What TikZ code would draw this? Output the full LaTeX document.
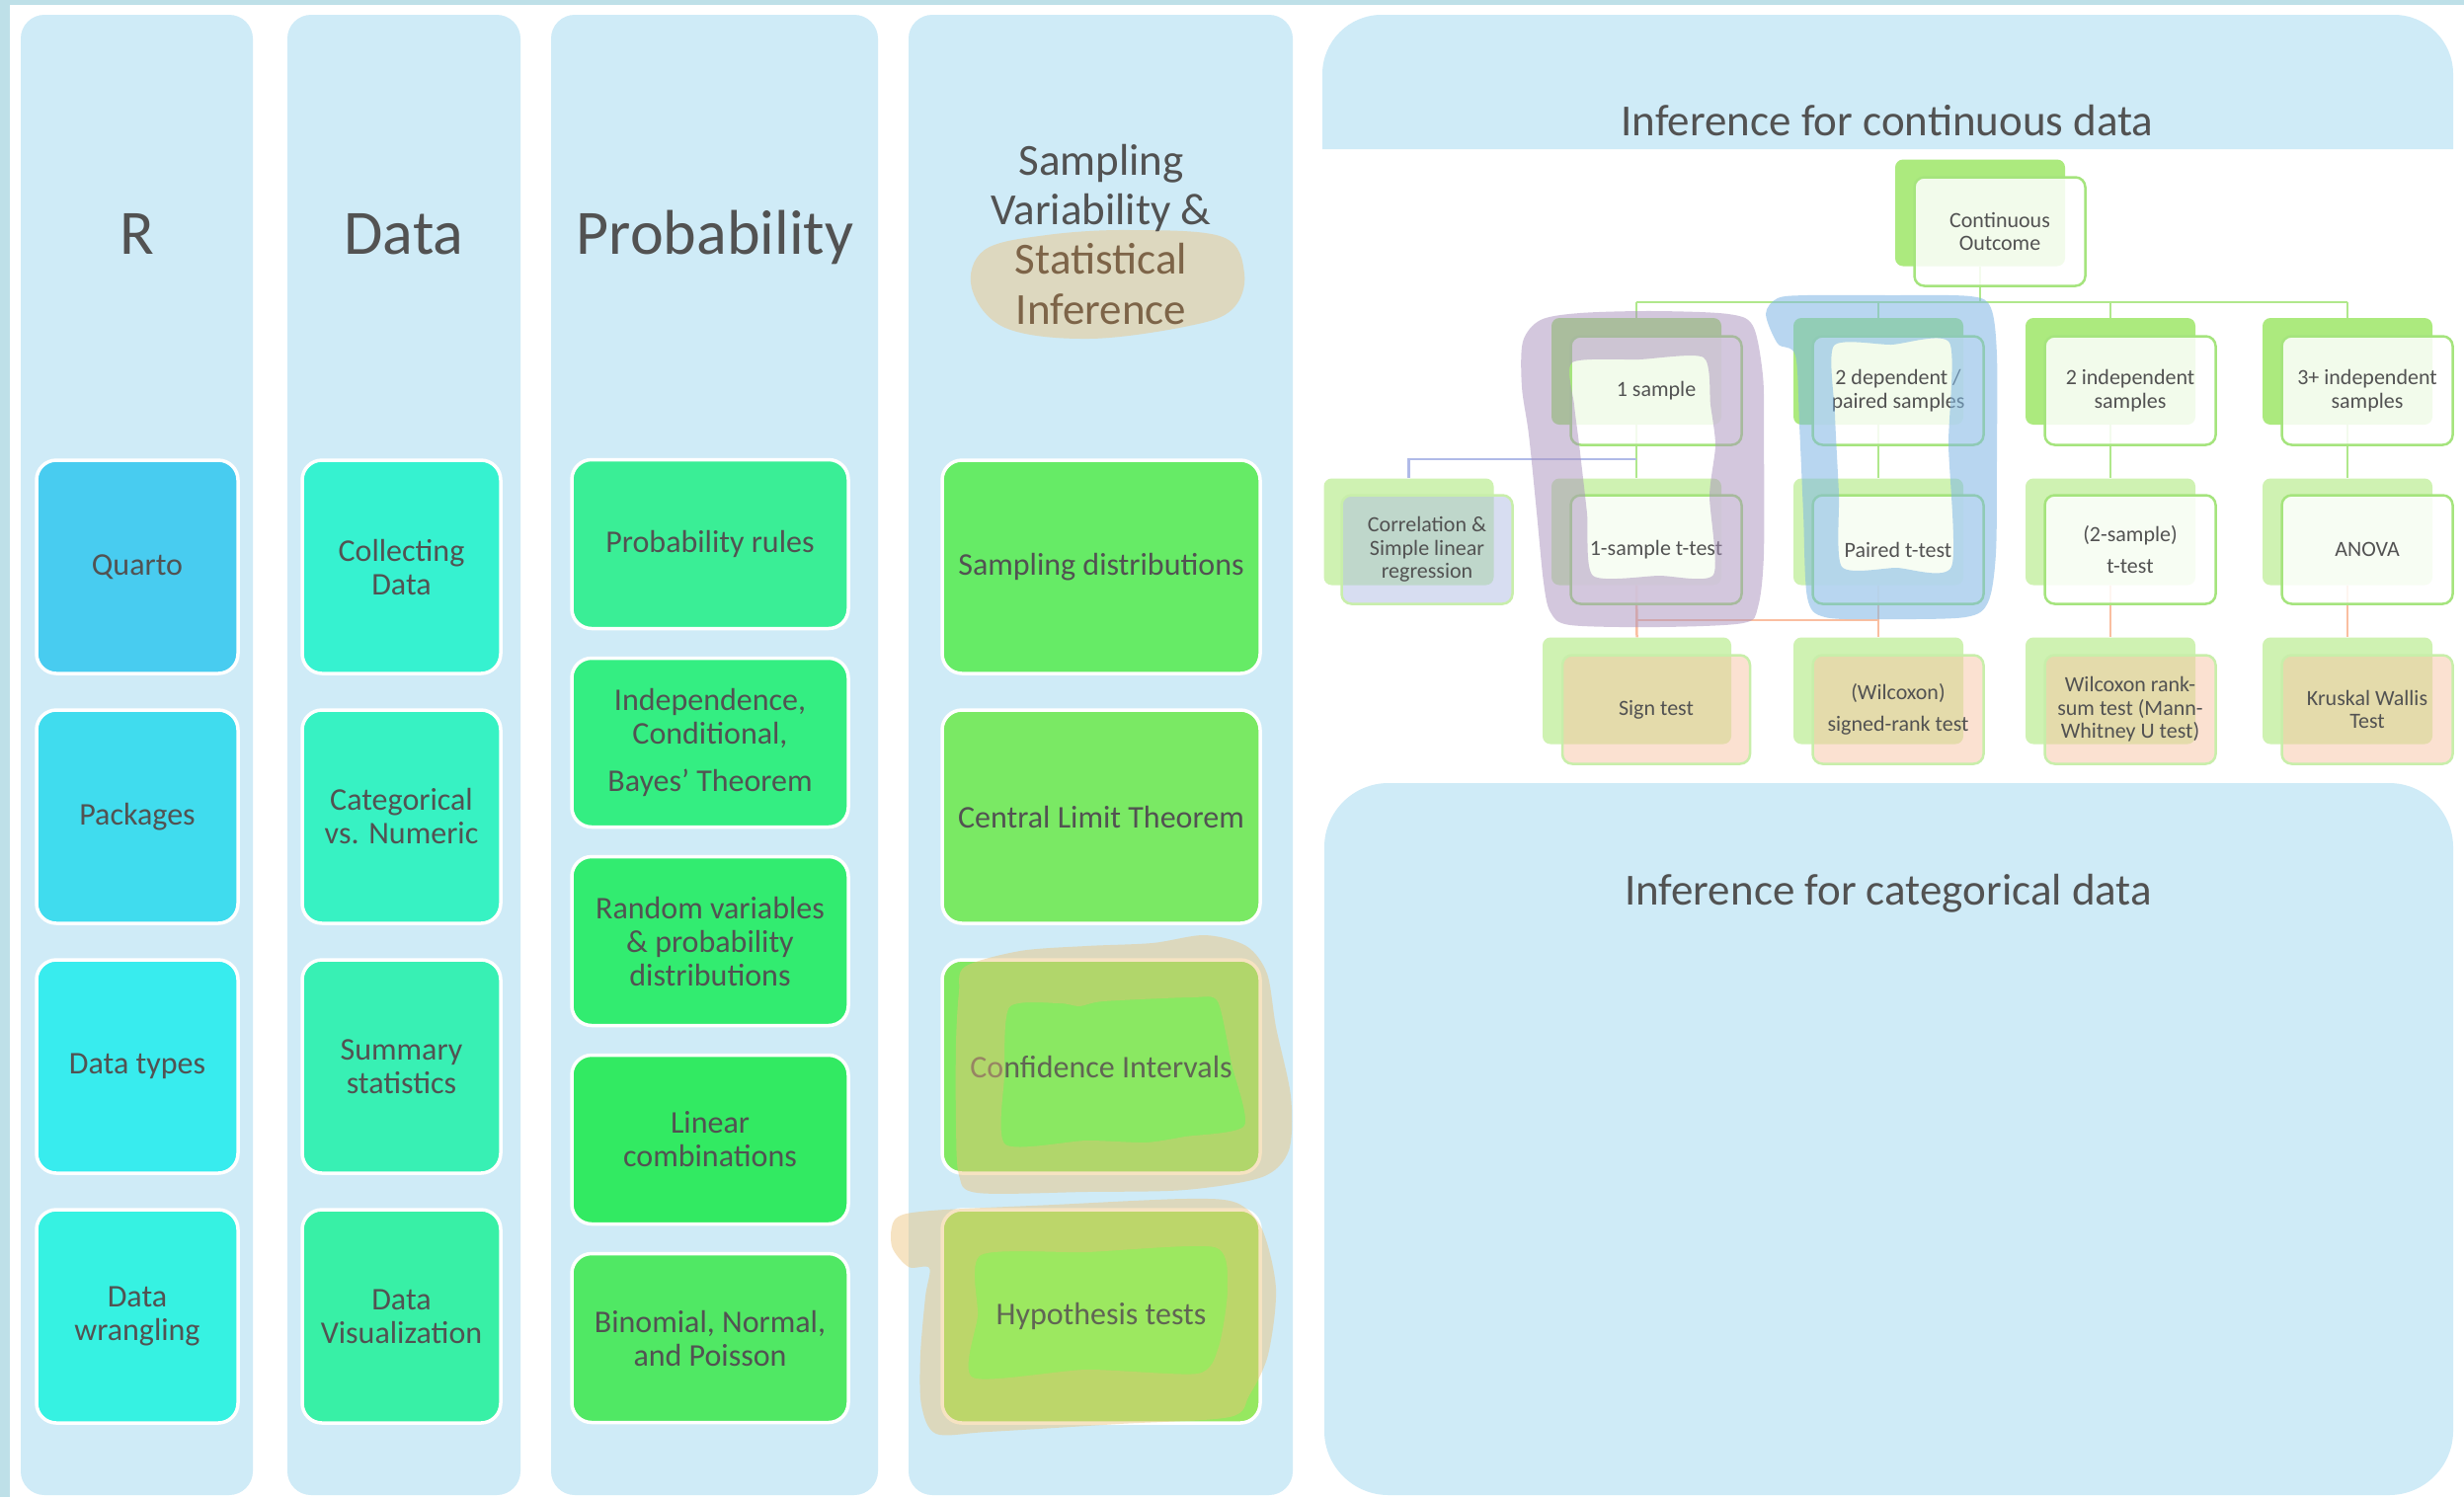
\documentclass[tikz,border=0pt]{standalone}
\usepackage{fontspec}
\setmainfont{Carlito}
\usetikzlibrary{calc}

\definecolor{panelblue}{RGB}{207,235,247}
\definecolor{stripblue}{RGB}{190,224,232}
\definecolor{txt}{RGB}{82,82,82}
\definecolor{brownt}{RGB}{125,100,72}
% topic box fills
\definecolor{cQuarto}{RGB}{72,204,240}
\definecolor{cPackages}{RGB}{64,220,238}
\definecolor{cTypes}{RGB}{56,236,238}
\definecolor{cWrangle}{RGB}{54,242,226}
\definecolor{cCollect}{RGB}{54,242,208}
\definecolor{cCatNum}{RGB}{55,242,195}
\definecolor{cSumm}{RGB}{56,240,180}
\definecolor{cViz}{RGB}{56,240,166}
\definecolor{cRules}{RGB}{58,238,150}
\definecolor{cIndep}{RGB}{52,238,130}
\definecolor{cRV}{RGB}{50,236,112}
\definecolor{cLin}{RGB}{50,234,98}
\definecolor{cBinom}{RGB}{80,232,100}
\definecolor{cSampD}{RGB}{102,235,102}
\definecolor{cCLT}{RGB}{122,233,100}
\definecolor{cCI}{RGB}{130,232,98}
\definecolor{cHT}{RGB}{150,232,96}
% tree colours
\definecolor{treeline}{RGB}{176,232,140}
\definecolor{lavline}{RGB}{176,186,232}
\definecolor{orangeline}{RGB}{250,190,160}
\definecolor{treegreen}{RGB}{172,234,126}
\definecolor{treegreenlt}{RGB}{207,242,178}
\definecolor{treeborder}{RGB}{165,228,125}
\definecolor{treeborderlt}{RGB}{200,238,170}
\definecolor{peach}{RGB}{249,197,165}
\definecolor{lavender}{RGB}{177,189,229}
% highlighter colours
\definecolor{hlpurple}{RGB}{169,145,189}
\definecolor{hlblue}{RGB}{126,182,228}
\definecolor{hltan}{RGB}{236,193,120}
\definecolor{hlsand}{RGB}{221,216,191}
\definecolor{hllime}{RGB}{200,240,100}

\newcommand\hdfont{\fontsize{64}{70}\selectfont}
\newcommand\sbfont{\fontsize{45}{50}\selectfont}
\newcommand\tpfont{\fontsize{32}{34}\selectfont}
\newcommand\trfont{\fontsize{22}{23.5}\selectfont}

\begin{document}
\begin{tikzpicture}[x=1pt,y=-1pt,
  panel/.style={fill=panelblue, rounded corners=24},
  hdr/.style={text=txt, font=\hdfont, inner sep=0, anchor=base},
  sbhdr/.style={text=txt, font=\sbfont, inner sep=0, anchor=base},
  ttl/.style={text=txt, font=\sbfont, inner sep=0, anchor=base},
  topic/.style={draw=white, line width=3.5, rounded corners=20, text=txt,
    align=center, inner sep=0, font=\tpfont},
  rcol/.style={topic, minimum width=204, minimum height=216},
  dcol/.style={topic, minimum width=201, minimum height=216},
  pcol/.style={topic, minimum width=280, minimum height=171},
  scol/.style={topic, minimum width=322, minimum height=216},
  gline/.style={draw=treeline, line width=2.5},
  lline/.style={draw=lavline, line width=2.5},
  oline/.style={draw=orangeline, line width=2.5},
  backdark/.style={fill=treegreen, minimum width=172, minimum height=108,
    rounded corners=8, inner sep=0},
  backlight/.style={fill=treegreenlt, minimum width=172, minimum height=108,
    rounded corners=8, inner sep=0},
  front/.style={draw=treeborder, line width=2.5, fill=white, fill opacity=0.85,
    text opacity=1, text=txt, minimum width=173, minimum height=110,
    rounded corners=10, inner sep=0, align=center, font=\trfont},
  frontpeach/.style={front, fill=peach, fill opacity=0.5, draw=treeborderlt},
  frontlav/.style={front, fill=lavender, fill opacity=0.5, draw=treeborderlt}
]
\useasboundingbox (0,0) rectangle (2495,1516);
\fill[white] (0,0) rectangle (2495,1516);
\fill[stripblue] (0,0) rectangle (2495,5);
\fill[stripblue] (0,0) rectangle (10,1516);

% ---------- column panels ----------
\fill[panel] (21,15) rectangle (256,1514);
\fill[panel] (291,15) rectangle (527,1514);
\fill[panel] (558,15) rectangle (889,1514);
\fill[panel] (920,15) rectangle (1309,1514);
\fill[panelblue] (1339,151) [rounded corners=60] -- (1339,15) -- (2484,15)
  [sharp corners] -- (2484,151) -- cycle;
\fill[panelblue, rounded corners=65] (1341,793) rectangle (2484,1514);

% ---------- column headings ----------
\node[hdr] (hR) at (139,257) {R};
\node[hdr] (hData) at (409,257) {Data};
\node[hdr] (hProb) at (724,257) {Probability};
\fill[hlsand] plot[smooth cycle, tension=0.6] coordinates {
  (997,253) (1060,238) (1145,233) (1238,240) (1260,277) (1248,313)
  (1204,330) (1103,343) (1018,332) (984,292)};
\node[sbhdr] (hS1) at (1115,177) {Sampling};
\node[sbhdr] (hS2) at (1115,227) {Variability \&};
\node[sbhdr, text=brownt] (hS3) at (1115,277) {Statistical};
\node[sbhdr, text=brownt] (hS4) at (1115,328) {Inference};

% ---------- topic boxes ----------
\node[rcol, fill=cQuarto]   (quarto)    at (139,574)  {Quarto};
\node[rcol, fill=cPackages] (packages)  at (139,827)  {Packages};
\node[rcol, fill=cTypes]    (dtypes)    at (139,1080) {Data types};
\node[rcol, fill=cWrangle]  (wrangling) at (139,1333) {Data\\wrangling};

\node[dcol, fill=cCollect] (collect) at (406.5,574)  {Collecting\\Data};
\node[dcol, fill=cCatNum]  (catnum)  at (406.5,827)  {Categorical\\vs. Numeric};
\node[dcol, fill=cSumm]    (summ)    at (406.5,1080) {Summary\\statistics};
\node[dcol, fill=cViz]     (dviz)    at (406.5,1333) {Data\\Visualization};

\node[pcol, fill=cRules] (prules)  at (719,551)  {Probability rules};
\node[pcol, fill=cIndep] (indep)   at (719,752)  {Independence,\\Conditional,\\[14pt]Bayes' Theorem};
\node[pcol, fill=cRV]    (rv)      at (719,953)  {Random variables\\\& probability\\distributions};
\node[pcol, fill=cLin]   (lincomb) at (719,1154) {Linear\\combinations};
\node[pcol, fill=cBinom] (binom)   at (719,1355) {Binomial, Normal,\\and Poisson};

\node[scol, fill=cSampD] (sampd) at (1115,574)  {Sampling distributions};
\node[scol, fill=cCLT]   (clt)   at (1115,827)  {Central Limit Theorem};
\node[scol, fill=cCI]    (ci)    at (1115,1080) {Confidence Intervals};
\node[scol, fill=cHT]    (ht)    at (1115,1333) {Hypothesis tests};

% lighter patches inside the two highlighted topics
\fill[hllime, fill opacity=0.12] plot[smooth cycle, tension=0.4] coordinates {
  (1022,1020) (1073,1016) (1093,1019) (1117,1014) (1207,1010) (1233,1014)
  (1247,1077) (1260,1140) (1200,1151) (1160,1157) (1100,1155) (1018,1159) (1017,1089)};
\fill[hllime, fill opacity=0.12] plot[smooth cycle, tension=0.4] coordinates {
  (993,1271) (1100,1268) (1230,1263) (1243,1305) (1234,1364) (1213,1391)
  (1100,1387) (985,1395) (990,1332)};

% highlighter strokes round the last two topics
\fill[hltan, fill opacity=0.45, even odd rule]
  plot[smooth cycle, tension=0.5] coordinates {
  (977,979) (1033,963) (1100,958) (1167,955) (1220,947) (1262,958) (1283,986)
  (1292,1040) (1307,1110) (1305,1165) (1278,1192) (1200,1205) (1100,1207)
  (990,1208) (971,1190) (968,1136) (968,1057) (971,1005)}
  plot[smooth cycle, tension=0.4] coordinates {
  (1022,1020) (1073,1016) (1093,1019) (1117,1014) (1207,1010) (1233,1014)
  (1247,1077) (1260,1140) (1200,1151) (1160,1157) (1100,1155) (1018,1159) (1017,1089)};
\fill[hltan, fill opacity=0.45, even odd rule]
  plot[smooth cycle, tension=0.5] coordinates {
  (943,1226) (1067,1220) (1200,1214) (1252,1218) (1278,1245) (1292,1305)
  (1284,1372) (1265,1413) (1245,1435) (1133,1442) (1000,1450) (948,1452)
  (933,1423) (932,1372) (937,1313) (941,1284) (920,1283) (903,1262) (907,1234)}
  plot[smooth cycle, tension=0.4] coordinates {
  (993,1271) (1100,1268) (1230,1263) (1243,1305) (1234,1364) (1213,1391)
  (1100,1387) (985,1395) (990,1332)};

% ---------- right-hand titles ----------
\node[ttl] (tcont) at (1911,137) {Inference for continuous data};
\node[ttl] (tcat)  at (1912,916) {Inference for categorical data};

% ---------- continuous-outcome tree ----------
\coordinate (hub) at (2005,306);
\coordinate (corrhub) at (1657,465);
\coordinate (ojoin) at (1657,628);

\node[backdark]  (rootb)  at (2005,215.5) {};
\node[backdark]  (onesb)  at (1657,376) {};
\node[backdark]  (depb)   at (1902,376) {};
\node[backdark]  (indb)   at (2137,376) {};
\node[backdark]  (threeb) at (2377,376) {};
\node[backlight] (corrb)  at (1426.5,538.5) {};
\node[backlight] (tt1b)   at (1657,538.5) {};
\node[backlight] (pairb)  at (1902,538.5) {};
\node[backlight] (tt2b)   at (2137,538.5) {};
\node[backlight] (anovab) at (2377,538.5) {};
\node[backlight, minimum width=191] (signb) at (1657.5,699.5) {};
\node[backlight] (srankb) at (1902,699.5) {};
\node[backlight] (rsumb)  at (2137,699.5) {};
\node[backlight] (kwb)    at (2377,699.5) {};

% connectors
\draw[gline] (rootb.south) -- (hub);
\draw[gline] (hub -| onesb.north) -- (hub -| threeb.north);
\draw[gline] (hub -| onesb.north) -- (onesb.north);
\draw[gline] (hub -| depb.north) -- (depb.north);
\draw[gline] (hub -| indb.north) -- (indb.north);
\draw[gline] (hub -| threeb.north) -- (threeb.north);
\draw[gline] (onesb.south) -- (tt1b.north);
\draw[gline] (depb.south) -- (pairb.north);
\draw[gline] (indb.south) -- (tt2b.north);
\draw[gline] (threeb.south) -- (anovab.north);
\draw[lline] (corrhub) -| (corrb.north);
\draw[oline] (tt1b.south) -- (signb.north);
\draw[oline] (pairb.south) -- (srankb.north);
\draw[oline] (tt2b.south) -- (rsumb.north);
\draw[oline] (anovab.south) -- (kwb.north);
\draw[oline] (ojoin) -- (ojoin -| pairb.south);

% front cards
\node[front] (root)  at (2025,234.5) {Continuous\\Outcome};
\node[front] (ones)  at (1677,395.5) {1 sample};
\node[front] (dep)   at (1922,395.5) {2 dependent /\\paired samples};
\node[front] (ind)   at (2157,395.5) {2 independent\\samples};
\node[front] (three) at (2397,395.5) {3+ independent\\samples};
\node[frontlav] (corr) at (1445,556.5) {Correlation \&\\Simple linear\\regression};
\node[front] (tt1)   at (1677,556.5) {1-sample t-test};
\node[front] (pair)  at (1922,556.5) {Paired t-test};
\node[front] (tt2)   at (2157,556.5) {(2-sample)\\[8pt]t-test};
\node[front] (anova) at (2397,556.5) {ANOVA};
\node[frontpeach, minimum width=190] (sign) at (1677,718.5) {Sign test};
\node[frontpeach] (srank) at (1922,718.5) {(Wilcoxon)\\[8pt]signed-rank test};
\node[frontpeach] (rsum)  at (2157,718.5) {Wilcoxon rank-\\sum test (Mann-\\Whitney U test)};
\node[frontpeach] (kw)    at (2397,718.5) {Kruskal Wallis\\Test};

% highlighter loops over the tree
\fill[hlpurple, fill opacity=0.5, even odd rule]
  plot[smooth cycle, tension=0.5] coordinates {
  (1542,346) (1560,324) (1600,317) (1674,315) (1750,318) (1775,330) (1785,380)
  (1786,435) (1786,561) (1780,615) (1765,631) (1680,635) (1590,633) (1570,620)
  (1563,590) (1556,519) (1548,440) (1541,392)}
  plot[smooth cycle, tension=0.4] coordinates {
  (1592,367) (1660,364) (1725,362) (1732,410) (1737,451) (1731,502) (1735,582)
  (1680,583) (1613,583) (1607,520) (1599,450) (1594,410)};
\fill[hlblue, fill opacity=0.55, even odd rule]
  plot[smooth cycle, tension=0.5] coordinates {
  (1788,318) (1800,302) (1830,299) (1910,299) (1995,300) (2016,312) (2022,360)
  (2022,460) (2021,560) (2013,610) (1990,625) (1910,627) (1848,625) (1830,605)
  (1826,520) (1822,430) (1818,360) (1800,348)}
  plot[smooth cycle, tension=0.4] coordinates {
  (1857,350) (1915,349) (1974,347) (1973,450) (1976,574) (1920,575) (1865,574)
  (1862,500) (1858,420)};
\end{tikzpicture}
\end{document}
